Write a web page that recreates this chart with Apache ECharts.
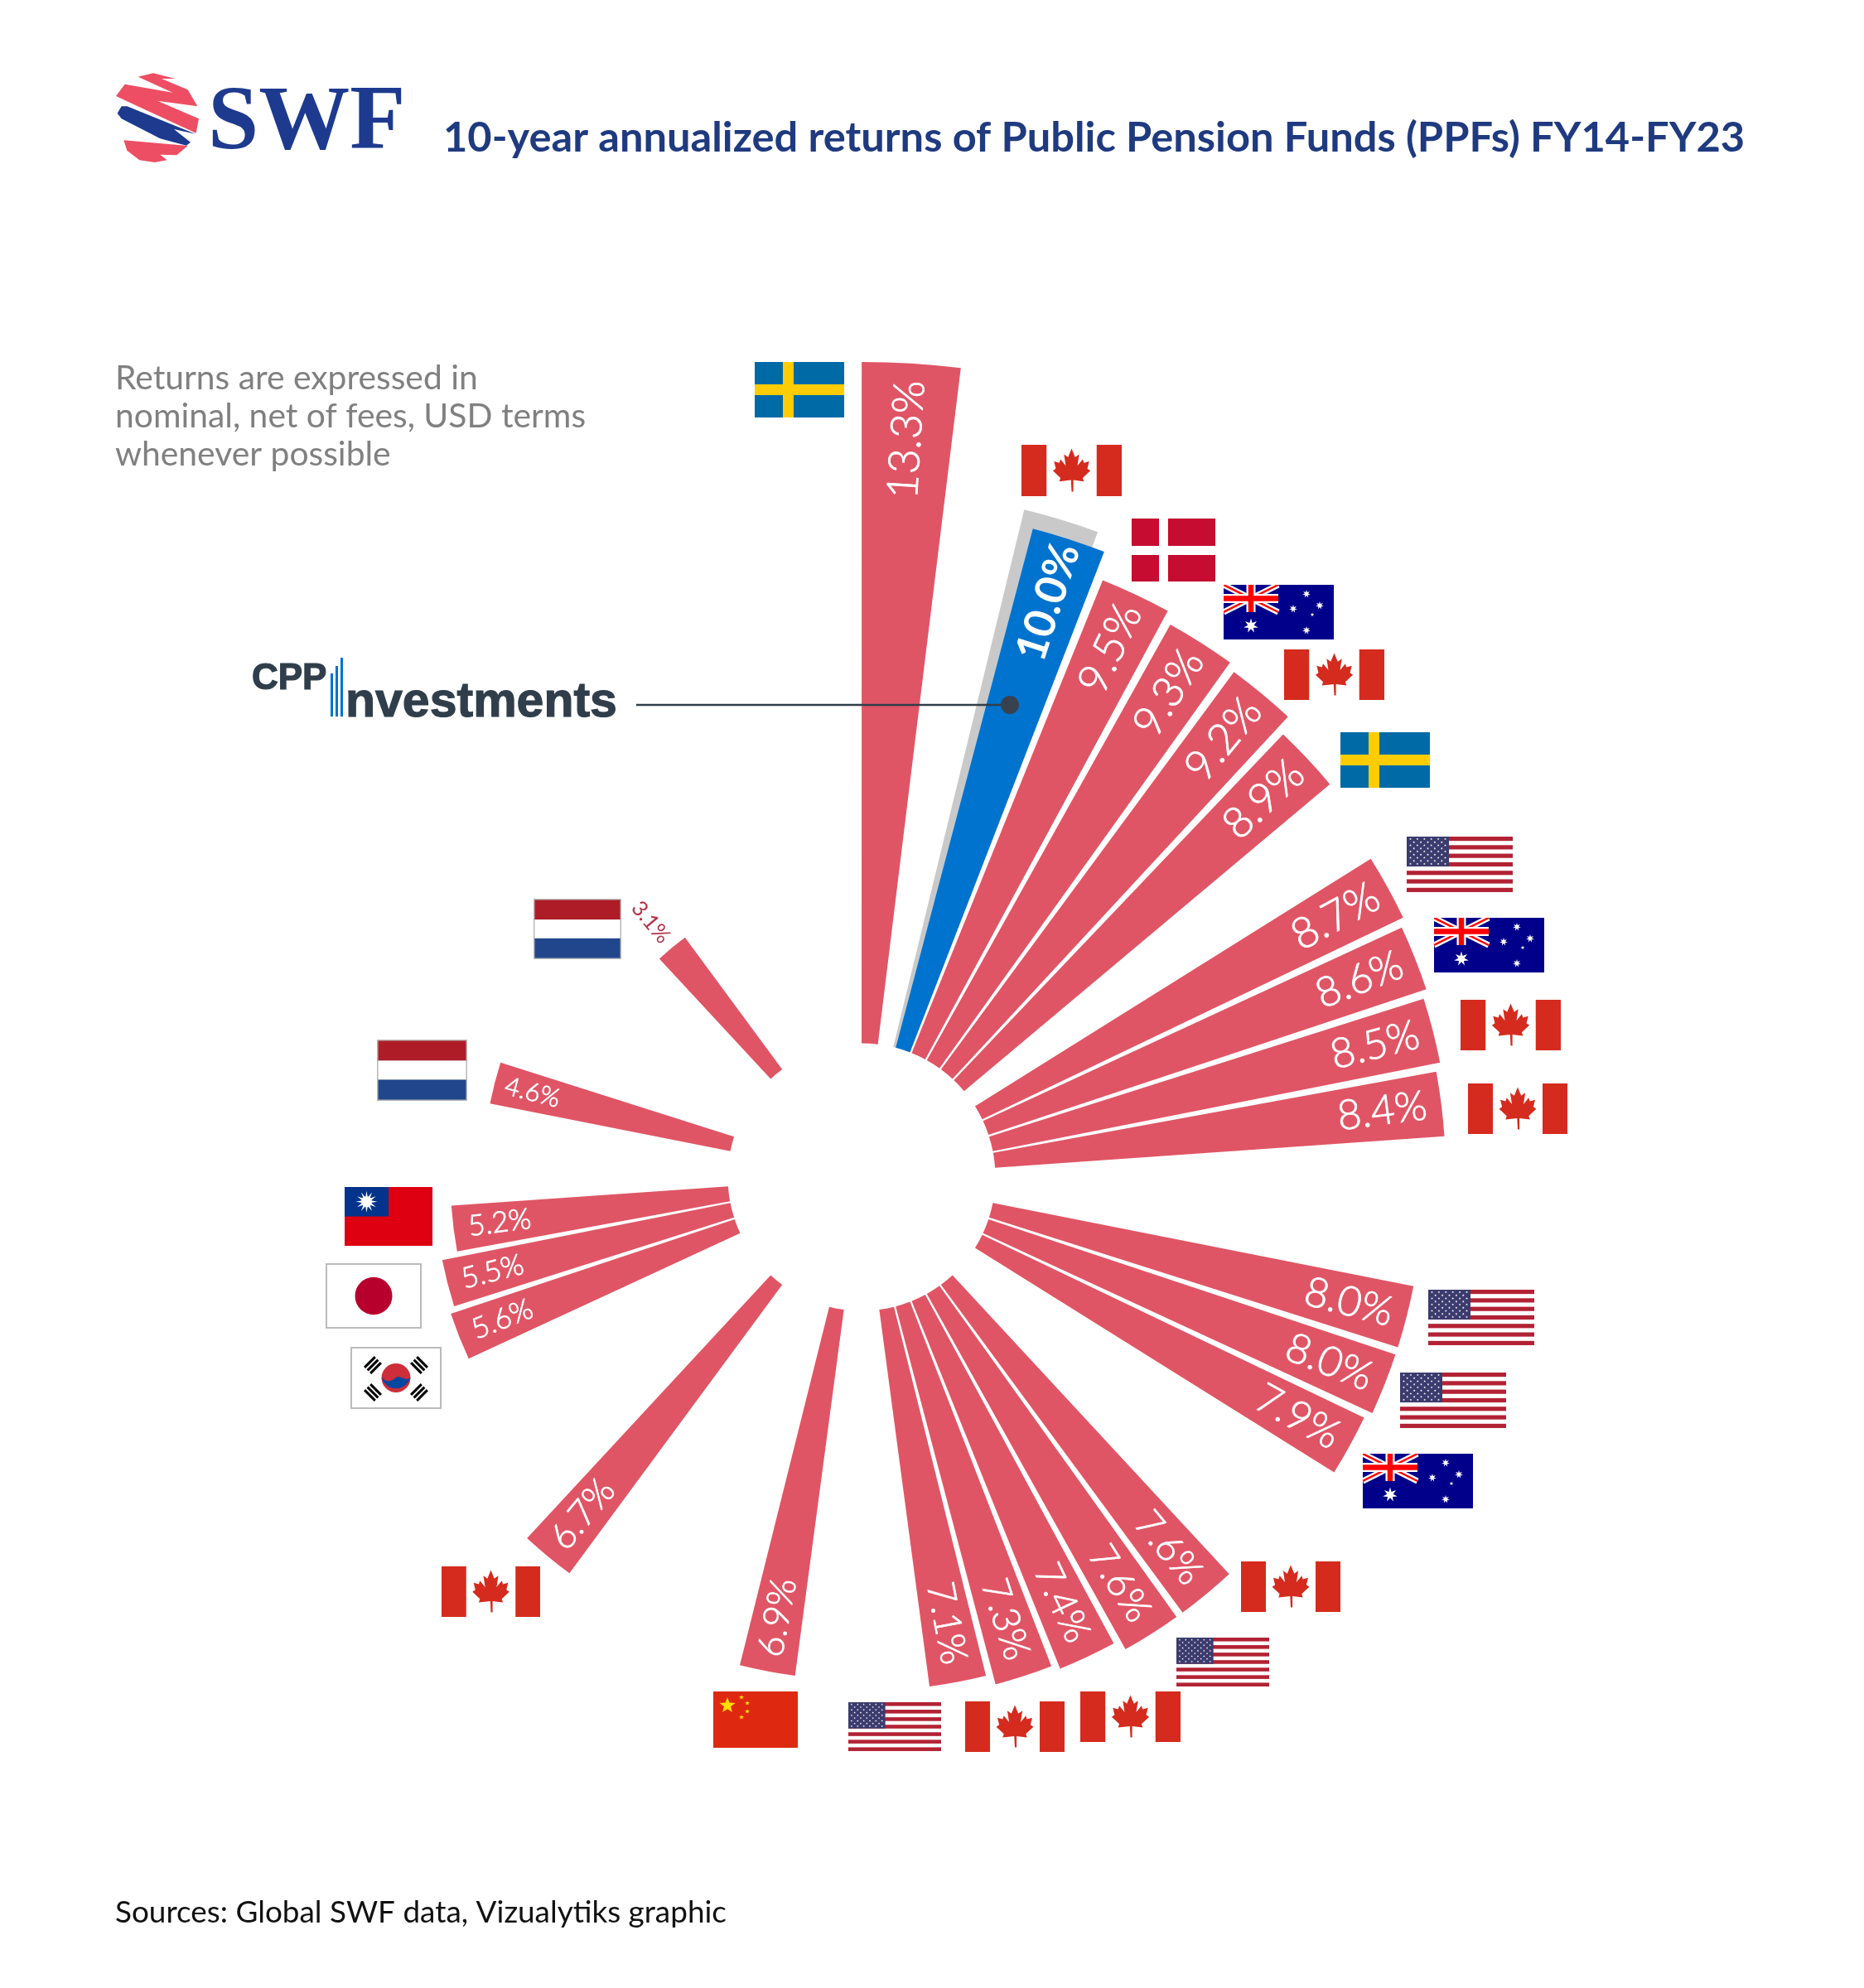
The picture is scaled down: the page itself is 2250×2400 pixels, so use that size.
<!DOCTYPE html>
<html>
<head>
<meta charset="utf-8">
<title>10-year annualized returns of Public Pension Funds</title>
<script src="https://cdn.jsdelivr.net/npm/echarts@6/dist/echarts.min.js"></script>
<style>html,body{margin:0;padding:0;background:#fff}#chart{width:2250px;height:2400px}</style>
</head>
<body>
<div id="chart"></div>
<script>
// one slot per 7.2 degrees, clockwise from north; empty slots are the gaps in the fan
const returns = [
  null, null, 10.0, 9.5, 9.3, 9.2, 8.9, null, 8.7, 8.6,
  8.5, 8.4, null, null, 8.0, 8.0, 7.9, null, null, 7.6,
  7.6, 7.4, 7.3, 7.1, null, null, 6.9, null, null, null,
  6.7, null, null, null, 5.6, 5.5, 5.2, null, null, 4.6,
  null, null, null, null, 3.1, null, null, null, null, null
];
const leadReturn = 13.3;     // slot 0, runs past the axis and is cut off by it
const cppSlot = 2;
const cppBackdrop = 10.3;    // grey bar behind CPP
const slots = returns.map((_, i) => 'slot' + i);

const C_BAR = '#E05565';
const C_CPP = '#0073CF';
const C_BACK = '#C9C9C9';
const C_NAVY = '#1F3A7F';
const C_INK = '#2F3E4A';
const LABEL_FONT = 'Lato, "Open Sans", sans-serif';

// polar bar labels take their rotation in radians
const labelFor = (v, i) => {
  const angle = i * 7.2 + 3.6;
  const rotate = (angle < 180 ? 90 - angle : 270 - angle) * Math.PI / 180;
  const size = v >= 8.7 ? 52 : v >= 7.9 ? 50 : v >= 7 ? 46 : v >= 6 ? 44 : v >= 5 ? 35 : v >= 4 ? 31 : 26;
  const distance = v >= 7 ? 72 : v >= 6 ? 66 : v >= 5 ? 56 : 47;
  const base = { show: true, rotate, fontSize: size, align: 'center', verticalAlign: 'middle', fontFamily: LABEL_FONT };
  if (v < 4) {
    return Object.assign(base, { position: 'end', distance: 40, color: '#B5324A', fontWeight: 400 });
  }
  // light weight with a hairline border sits between Lato Light and Regular
  return Object.assign(base, {
    position: 'insideEnd', distance, color: '#fff', fontWeight: 300,
    textBorderColor: '#fff', textBorderWidth: 0.8
  });
};

const polarAt = (startAngle) => ({ center: [1040, 1421], radius: [161.5, 984], startAngle });
const axesFor = (polars) => ({
  polar: polars.map(a => polarAt(a)),
  angleAxis: polars.map((a, i) => ({
    polarIndex: i, type: 'category', data: slots, startAngle: a, clockwise: true, show: false
  })),
  radiusAxis: polars.map((_, i) => ({
    polarIndex: i, type: 'value', min: 0.07, max: 12.67, show: false
  }))
});

// ---- flags: small svg strings, stretched to the box they get ----
const svg = (w, h, body) => 'data:image/svg+xml;charset=utf-8,' + encodeURIComponent(
  `<svg xmlns="http://www.w3.org/2000/svg" width="${w}" height="${h}" viewBox="0 0 ${w} ${h}" preserveAspectRatio="none">${body}</svg>`);
const star = (cx, cy, r, n, fill) => {
  let p = '';
  for (let k = 0; k < n * 2; k++) {
    const rr = k % 2 ? r * 0.42 : r;
    const a = Math.PI * k / n - Math.PI / 2;
    p += (cx + rr * Math.cos(a)).toFixed(1) + ',' + (cy + rr * Math.sin(a)).toFixed(1) + ' ';
  }
  return `<polygon points="${p}" fill="${fill}"/>`;
};
const usaBody = () => {
  let s = '<rect width="128" height="67" fill="#fff"/>';
  for (let i = 0; i < 7; i++) s += `<rect y="${(i * 67 * 2 / 13).toFixed(1)}" width="128" height="5.15" fill="#B22234"/>`;
  s += '<rect width="51" height="36" fill="#3C3B6E"/>';
  for (let r = 0; r < 9; r++) for (let c = 0; c < (r % 2 ? 5 : 6); c++) {
    s += star(4.5 + c * 8.4 + (r % 2 ? 4.2 : 0), 3 + r * 3.75, 1.5, 5, '#fff');
  }
  return s;
};
const leaf = 'M60 13 L66 25 L73 21 L70 37 L79 28 L81 33 L90 31 L87 41 L92 44 L79 54 L81 59 L63 57 L63 73 L60 73 L59 57 L39 59 L41 54 L28 44 L33 41 L30 31 L39 33 L41 28 L50 37 L47 21 L54 25 Z';
const ausBody = () => '<rect width="133" height="66" fill="#00008B"/>' +
  '<path d="M0 0 L66 33 M66 0 L0 33" stroke="#fff" stroke-width="7"/>' +
  '<path d="M0 0 L66 33 M66 0 L0 33" stroke="#F00" stroke-width="2.5"/>' +
  '<path d="M33 0 V33 M0 16.5 H66" stroke="#fff" stroke-width="11"/>' +
  '<path d="M33 0 V33 M0 16.5 H66" stroke="#F00" stroke-width="6.5"/>' +
  star(33, 49.5, 9, 7, '#fff') + star(100, 11, 5, 7, '#fff') + star(116, 25, 5, 7, '#fff') +
  star(84, 29, 5, 7, '#fff') + star(107, 36, 2.5, 5, '#fff') + star(100, 55, 5, 7, '#fff');
const koreaTrigram = (x, y, rot) => {
  let s = `<g transform="translate(${x} ${y}) rotate(${rot})">`;
  for (let i = 0; i < 3; i++) s += `<rect x="-9" y="${-6.5 + i * 5}" width="18" height="3" fill="#000"/>`;
  return s + '</g>';
};
const FLAG = {
  sweden: svg(108, 67, '<rect width="108" height="67" fill="#006AA7"/><rect x="34" width="13" height="67" fill="#FECC00"/><rect y="27" width="108" height="13" fill="#FECC00"/>'),
  canada: svg(120, 61, `<rect width="120" height="61" fill="#fff"/><rect width="30" height="61" fill="#D52B1E"/><rect x="90" width="30" height="61" fill="#D52B1E"/><path transform="translate(60 30) scale(.7 .85) translate(-60 -43)" d="${leaf}" fill="#D52B1E"/>`),
  denmark: svg(101, 76, '<rect width="101" height="76" fill="#C60C30"/><rect x="33" width="11" height="76" fill="#fff"/><rect y="33" width="101" height="11" fill="#fff"/>'),
  australia: svg(133, 66, ausBody()),
  usa: svg(128, 67, usaBody()),
  netherlands: svg(108, 74, '<rect width="108" height="74" fill="#B8B8B8"/><rect x="1.5" y="1.5" width="105" height="24" fill="#AE1C28"/><rect x="1.5" y="25.5" width="105" height="23" fill="#fff"/><rect x="1.5" y="48.5" width="105" height="24" fill="#21468B"/>'),
  taiwan: svg(106, 71, '<rect width="106" height="71" fill="#DE0010"/><rect width="53" height="35.5" fill="#03338B"/>' + star(26.5, 17.7, 13, 12, '#fff') + '<circle cx="26.5" cy="17.7" r="6.5" fill="#fff"/>'),
  japan: svg(116, 78, '<rect x="1" y="1" width="114" height="76" fill="#fff" stroke="#BBB" stroke-width="2"/><circle cx="58" cy="39" r="22.5" fill="#B8002D"/>'),
  korea: svg(110, 75, '<rect x="1" y="1" width="108" height="73" fill="#fff" stroke="#BBB" stroke-width="2"/>' +
    '<circle cx="55" cy="37.5" r="17.5" fill="#CD2E3A"/><path d="M37.8 36 A17.5 17.5 0 0 0 72.2 36 C68 44 60 33 55 37 C48 43 42 43 37.8 36 Z" fill="#0047A0"/>' +
    koreaTrigram(27, 22, -45) + koreaTrigram(83, 22, 45) + koreaTrigram(27, 55, 45) + koreaTrigram(83, 55, -45)),
  china: svg(102, 68, '<rect width="102" height="68" fill="#DE2910"/>' + star(17, 17, 10, 5, '#FFDE00') + star(34, 7, 3, 5, '#FFDE00') + star(41, 14, 3, 5, '#FFDE00') + star(41, 24, 3, 5, '#FFDE00') + star(34, 31, 3, 5, '#FFDE00'))
};
// [flag, x, y, w, h] - one per bar, reading clockwise from the top
const flagBoxes = [
  ['sweden', 911, 437, 108, 67], ['canada', 1233, 537, 121, 62], ['denmark', 1366, 626, 101, 76],
  ['australia', 1477, 706, 133, 66], ['canada', 1550, 784, 121, 61], ['sweden', 1618, 884, 108, 67],
  ['usa', 1698, 1010, 128, 67], ['australia', 1731, 1108, 133, 66], ['canada', 1763, 1207, 121, 61],
  ['canada', 1772, 1308, 120, 61], ['usa', 1724, 1557, 128, 67], ['usa', 1690, 1657, 128, 67],
  ['australia', 1645, 1755, 133, 66], ['canada', 1498, 1885, 120, 61], ['usa', 1420, 1977, 112, 59],
  ['canada', 1304, 2042, 121, 61], ['canada', 1165, 2054, 120, 61], ['usa', 1024, 2055, 112, 59],
  ['china', 861, 2042, 102, 68], ['canada', 533, 1891, 119, 61], ['korea', 423, 1626, 110, 75],
  ['japan', 393, 1525, 116, 79], ['taiwan', 416, 1433, 106, 71], ['netherlands', 455, 1255, 109, 74],
  ['netherlands', 644, 1085, 106, 73]
];

// ---- swf logo, traced in a 3x box ----
const logoRed = [[110,38],[165,25],[245,45],[195,45],[290,85],[325,145],[180,125],[330,190],[320,242],[120,150],[30,108],[62,65],[235,95]];
const logoBlue = [[35,170],[50,145],[70,145],[318,245],[240,228],[300,275],[285,287],[190,262],[50,190]];
const logoRed2 = [[58,268],[290,288],[250,322],[190,320],[215,340],[170,348],[115,340],[70,305]];

const txt = (text, x, y, size, color, extra) => ({
  type: 'text', x, y, z: 20,
  style: Object.assign({ text, fontSize: size, fill: color, fontFamily: 'Lato, sans-serif', textVerticalAlign: 'middle' }, extra)
});
const WORDMARK = { fontFamily: '"Liberation Sans", sans-serif', fontWeight: 'bold', stroke: C_INK, lineWidth: 1.2 };

const graphic = [
  {
    type: 'group', x: 130, y: 80, scaleX: 1 / 3, scaleY: 1 / 3,
    children: [
      { type: 'polygon', shape: { points: logoRed }, style: { fill: '#EE4E63' } },
      { type: 'polygon', shape: { points: logoBlue }, style: { fill: '#1E3A8F' } },
      { type: 'polygon', shape: { points: logoRed2 }, style: { fill: '#EE4E63' } }
    ]
  },
  txt('SWF', 251, 151, 110, '#1E3A8F', { fontFamily: '"Liberation Serif", serif', fontWeight: 'bold' }),
  txt('Returns are expressed in', 139, 457, 40.8, '#808080'),
  txt('nominal, net of fees, USD terms', 139, 503, 40.8, '#808080'),
  txt('whenever possible', 139, 549, 40.8, '#808080'),
  txt('Sources: Global SWF data, Vizualytiks graphic', 139, 2309, 36.9, '#111'),
  // cpp investments wordmark and its leader line
  txt('CPP', 304, 820, 44, C_INK, WORDMARK),
  { type: 'rect', z: 20, shape: { x: 399, y: 813, width: 3, height: 52 }, style: { fill: C_CPP } },
  { type: 'rect', z: 20, shape: { x: 405, y: 804, width: 3, height: 61 }, style: { fill: C_CPP } },
  { type: 'rect', z: 20, shape: { x: 411, y: 794, width: 3, height: 71 }, style: { fill: C_CPP } },
  txt('nvestments', 417, 849, 59, C_INK, WORDMARK),
  { type: 'line', z: 20, shape: { x1: 768, y1: 851, x2: 1219, y2: 851 }, style: { stroke: C_INK, lineWidth: 2.5 } },
  { type: 'circle', z: 20, shape: { cx: 1219, cy: 851, r: 11 }, style: { fill: '#37424E' } }
].concat(flagBoxes.map(([name, x, y, width, height]) => ({
  type: 'image', z: 10, style: { image: FLAG[name], x, y, width, height }
})));

const chart = echarts.init(document.getElementById('chart'), null, { renderer: 'canvas' });
chart.setOption(Object.assign({
  backgroundColor: '#fff',
  animation: false,
  title: {
    text: '10-year annualized returns of Public Pension Funds (PPFs) FY14-FY23',
    left: 530, top: 136,
    textStyle: { fontFamily: 'Lato, sans-serif', fontSize: 50.6, fontWeight: 'bold', color: C_NAVY }
  },
  graphic,
  series: [
    {
      // grey backing bar sits a touch counter-clockwise of the blue one
      name: 'backdrop', type: 'bar', coordinateSystem: 'polar', polarIndex: 1, barWidth: '89%', z: 1,
      data: returns.map((_, i) => (i === cppSlot ? cppBackdrop : null)),
      itemStyle: { color: C_BACK }, silent: true
    },
    {
      name: 'returns', type: 'bar', coordinateSystem: 'polar', polarIndex: 0, barWidth: '89%', z: 2,
      data: returns.map((v, i) => {
        if (v == null) return null;
        const label = Object.assign(labelFor(v, i), { formatter: v.toFixed(1) + '%' });
        // CPP's own figure is the one bold label
        if (i === cppSlot) Object.assign(label, { fontWeight: 'bold', textBorderWidth: 0, distance: 80 });
        return { value: v, itemStyle: { color: i === cppSlot ? C_CPP : C_BAR }, label };
      })
    },
    {
      name: 'lead', type: 'bar', coordinateSystem: 'polar', polarIndex: 2, barWidth: '97%', z: 2,
      data: returns.map((_, i) => i === 0 ? {
        value: leadReturn,
        label: Object.assign(labelFor(leadReturn, 0), { formatter: leadReturn.toFixed(1) + '%', distance: 92 })
      } : null),
      itemStyle: { color: C_BAR }
    }
  ]
}, axesFor([90, 91.1, 90.1])));
</script>
</body>
</html>
